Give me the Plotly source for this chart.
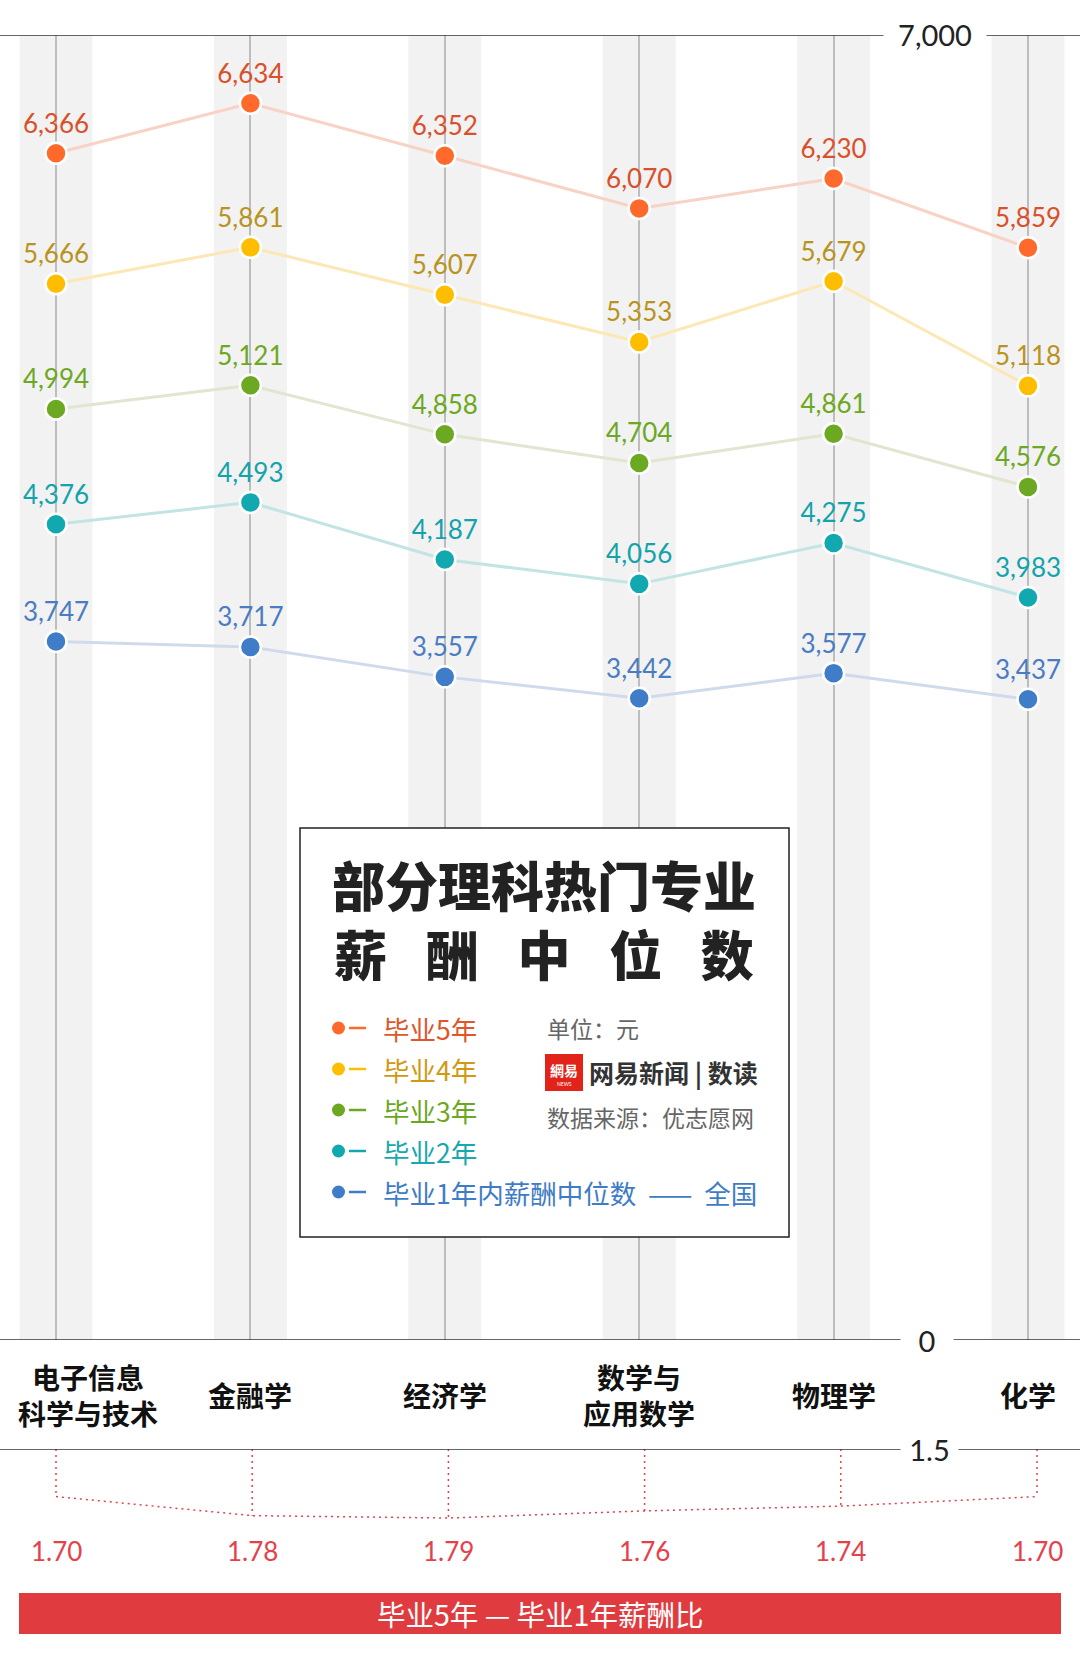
import plotly.graph_objects as go

W, H = 1080, 1654

majors = ["电子信息<br>科学与技术", "金融学", "经济学", "数学与<br>应用数学", "物理学", "化学"]
series_names = ["毕业5年", "毕业4年", "毕业3年", "毕业2年", "毕业1年内薪酬中位数"]
salary_5y = [6366, 6634, 6352, 6070, 6230, 5859]
salary_4y = [5666, 5861, 5607, 5353, 5679, 5118]
salary_3y = [4994, 5121, 4858, 4704, 4861, 4576]
salary_2y = [4376, 4493, 4187, 4056, 4275, 3983]
salary_1y = [3747, 3717, 3557, 3442, 3577, 3437]
ratio_5y_1y = [1.70, 1.78, 1.79, 1.76, 1.74, 1.70]

series = [salary_5y, salary_4y, salary_3y, salary_2y, salary_1y]
marker_colors = ["#ff6a2c", "#ffbd00", "#6da823", "#11a8b0", "#3f7dc8"]
text_colors = ["#d9502a", "#b8941f", "#6da823", "#13a3ac", "#4a7cc3"]
legend_colors = ["#e0562a", "#cf9a12", "#6ba81f", "#17a8b0", "#3e7cc6"]
line_colors = ["#f8d2c4", "#fbe8b4", "#e0e6cf", "#c2e4e4", "#cfdbec"]

NUM_FONT = "Lato, Noto Sans CJK SC, sans-serif"
CJK_FONT = "Noto Sans CJK SC, sans-serif"
RED = "#e5414b"


def fx(px):
    return px / W


def fy(px):
    return 1 - px / H


def note(x, y, text, size, color, weight=400, family=CJK_FONT, xanchor="center", **kw):
    # text placed in page pixels (from top-left)
    return dict(x=fx(x), y=fy(y), xref="paper", yref="paper", text=text, showarrow=False,
                xanchor=xanchor, yanchor="middle",
                font=dict(family=family, size=size, color=color, weight=weight), **kw)


fig = go.Figure()

for name, vals, mc, tc, lc in zip(series_names, series, marker_colors, text_colors, line_colors):
    fig.add_trace(go.Scatter(
        x=majors, y=vals, name=name, mode="lines+markers+text",
        line=dict(color=lc, width=3),
        marker=dict(size=21, color=mc, line=dict(color="white", width=2.5)),
        text=[f"{v:,}" for v in vals], textposition="top center",
        textfont=dict(family=NUM_FONT, size=26, color=tc, weight=400),
        cliponaxis=False, showlegend=False,
    ))

# lower panel: ratio of 5-year to 1-year salary
drop_x, drop_y = [], []
for m, r in zip(majors, ratio_5y_1y):
    drop_x += [m, m, None]
    drop_y += [1.5, r, None]
fig.add_trace(go.Scatter(x=drop_x, y=drop_y, xaxis="x2", yaxis="y2", mode="lines",
                         line=dict(color=RED, width=1.5, dash="2px,4px"), showlegend=False))
fig.add_trace(go.Scatter(x=majors, y=ratio_5y_1y, xaxis="x2", yaxis="y2", mode="lines",
                         line=dict(color=RED, width=1.5, dash="2px,4px"), showlegend=False))

shapes = []
for i in range(len(majors)):
    shapes.append(dict(type="rect", xref="x", yref="y", x0=i - 0.1875, x1=i + 0.1875, y0=0, y1=7000,
                       fillcolor="#f2f2f2", line=dict(width=0), layer="below"))
for yref, yv in [("y", 7000), ("y", 0), ("y2", 1.5)]:
    shapes.append(dict(type="line", xref="paper", yref=yref, x0=0, x1=1, y0=yv, y1=yv,
                       line=dict(color="#333", width=1.5)))

# title / legend box
shapes.append(dict(type="rect", xref="paper", yref="paper", x0=fx(300), x1=fx(789), y0=fy(1237), y1=fy(828),
                   fillcolor="white", line=dict(color="#222", width=1.5)))
for i, c in enumerate(marker_colors):
    yy = 1028 + 41 * i
    shapes.append(dict(type="circle", xref="paper", yref="paper", x0=fx(332), x1=fx(345),
                       y0=fy(yy + 6.5), y1=fy(yy - 6.5), fillcolor=c, line=dict(width=0)))
    shapes.append(dict(type="line", xref="paper", yref="paper", x0=fx(349), x1=fx(366),
                       y0=fy(yy), y1=fy(yy), line=dict(color=c, width=2.5)))
# logo
shapes.append(dict(type="rect", xref="paper", yref="paper", x0=fx(546), x1=fx(582), y0=fy(1090), y1=fy(1055),
                   fillcolor="#e2231a", line=dict(color="#e2231a", width=2)))
# bottom red bar
shapes.append(dict(type="rect", xref="paper", yref="paper", x0=fx(19), x1=fx(1061), y0=fy(1634), y1=fy(1593),
                   fillcolor="#e03c3f", line=dict(width=0)))

ann = []
# category labels
for i, m in enumerate(majors):
    ann.append(dict(x=m, xref="x", y=fy(1395), yref="paper", text=m, showarrow=False,
                    xanchor="center", yanchor="middle", xshift=32 if i == 0 else 0,
                    font=dict(family=CJK_FONT, size=28, color="#111", weight=700)))
# ratio labels
for m, r in zip(majors, ratio_5y_1y):
    ann.append(dict(x=m, xref="x2", y=fy(1551), yref="paper", text=f"{r:.2f}", showarrow=False,
                    xanchor="center", yanchor="middle",
                    font=dict(family=NUM_FONT, size=26, color=RED, weight=400)))
# axis labels sitting on the rules
for txt, xp, yref, yv, w in [("7,000", 935, "y", 7000, 100), ("0", 927, "y", 0, 50), ("1.5", 929, "y2", 1.5, 55)]:
    ann.append(dict(x=fx(xp), xref="paper", y=yv, yref=yref, text=txt, showarrow=False, width=w,
                    xanchor="center", yanchor="middle", bgcolor="white",
                    font=dict(family=NUM_FONT, size=29, color="#222", weight=400)))

# title: second line spread out to the width of the first
gap = "\u2002\u00a0"
ann.append(note(544, 918, "部分理科热门专业<br>" + gap.join("薪酬中位数"), 53, "#222", 900))
# legend text
for i, (name, c) in enumerate(zip(series_names, legend_colors)):
    txt = name if i < 4 else name + "  ——  全国"
    ann.append(note(381, 1028 + 41 * i, txt, 26.5, c, xanchor="left"))
ann.append(note(545, 1028, "单位：元", 23, "#666", xanchor="left"))
ann.append(note(545, 1117, "数据来源：优志愿网", 23, "#666", xanchor="left"))
ann.append(note(564, 1070, "網易", 14, "white", 700))
ann.append(note(564, 1084, "NEWS", 5, "white", family=NUM_FONT))
ann.append(note(587, 1072, "网易新闻 | 数读", 25, "#333", 700, xanchor="left"))
# bottom bar caption
ann.append(note(540, 1613, "毕业5年 — 毕业1年薪酬比", 28.5, "white"))

fig.update_layout(
    width=W, height=H, margin=dict(l=0, r=0, t=0, b=0),
    paper_bgcolor="white", plot_bgcolor="rgba(0,0,0,0)", showlegend=False,
    xaxis=dict(type="category", range=[-56 / 194.4, (W - 56) / 194.4], domain=[0, 1],
               showgrid=True, gridcolor="#bdbdbd", gridwidth=1.5, showticklabels=False,
               zeroline=False, showline=False, ticks=""),
    yaxis=dict(range=[0, 7000], domain=[fy(1340), fy(35)], showgrid=False, zeroline=False,
               showticklabels=False),
    xaxis2=dict(type="category", anchor="y2", range=[-56 / 196.2, (W - 56) / 196.2], domain=[0, 1],
                visible=False),
    yaxis2=dict(anchor="x2", range=[1.5 + (1520.4 - 1449) / 238, 1.5], domain=[fy(1520.4), fy(1449)],
                visible=False),
    shapes=shapes, annotations=ann,
)

fig.write_html("out.html", config={"displayModeBar": False},
               post_script="document.body.style.margin='0';")
